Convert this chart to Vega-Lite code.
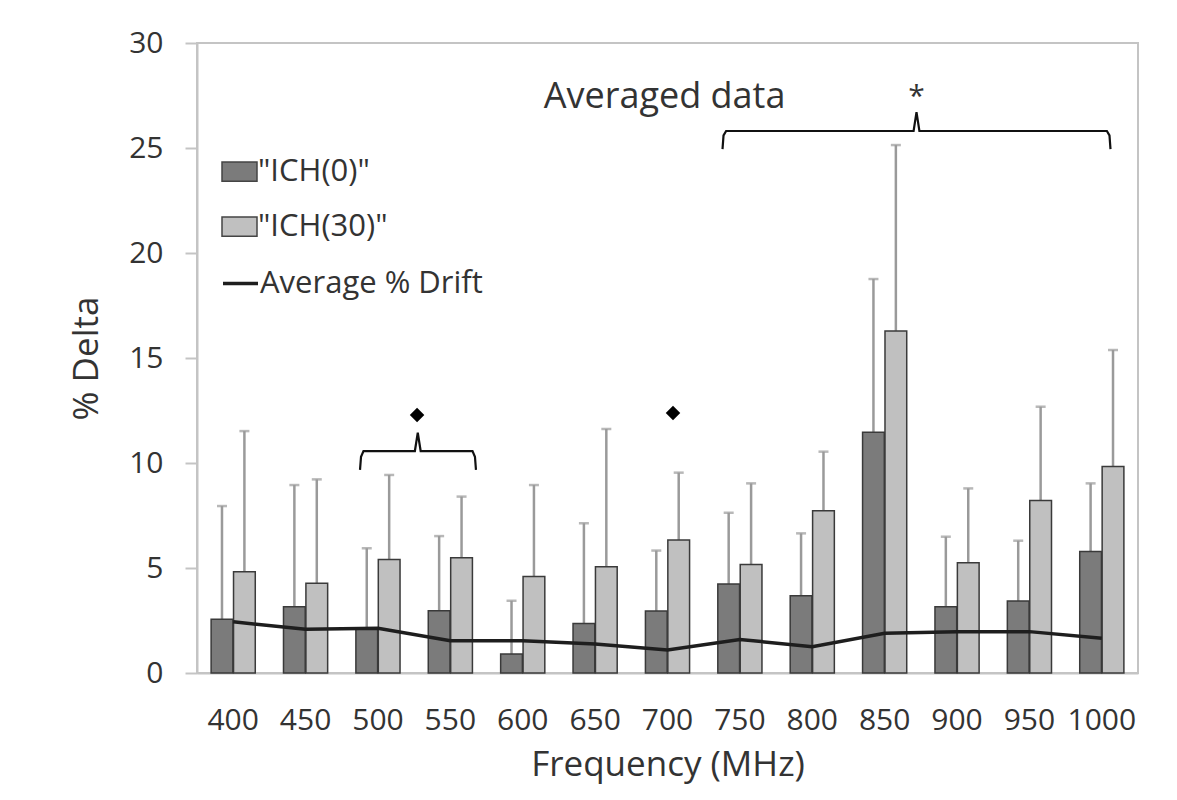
{
  "$schema": "https://vega.github.io/schema/vega-lite/v6.json",
  "width": 941,
  "height": 630,
  "autosize": "none",
  "padding": {"left": 197, "top": 43, "right": 39, "bottom": 127},
  "background": "white",
  "config": {
    "font": "Open Sans",
    "view": {"stroke": "#c4c4c4", "strokeWidth": 2},
    "axis": {"labelFont": "Open Sans", "titleFont": "Open Sans", "labelColor": "#333", "titleColor": "#333", "titleFontWeight": "normal", "domainColor": "#c4c4c4", "tickColor": "#c4c4c4", "domainWidth": 2, "tickWidth": 2, "grid": false},
    "legend": {"labelFont": "Open Sans", "labelColor": "#333", "padding": 0}
  },
  "datasets": {
    "bars": [
      {"freq": 400, "series": "\"ICH(0)\"", "value": 2.56, "err": 7.95},
      {"freq": 400, "series": "\"ICH(30)\"", "value": 4.82, "err": 11.52},
      {"freq": 450, "series": "\"ICH(0)\"", "value": 3.16, "err": 8.95},
      {"freq": 450, "series": "\"ICH(30)\"", "value": 4.27, "err": 9.22},
      {"freq": 500, "series": "\"ICH(0)\"", "value": 2.13, "err": 5.94},
      {"freq": 500, "series": "\"ICH(30)\"", "value": 5.41, "err": 9.43},
      {"freq": 550, "series": "\"ICH(0)\"", "value": 2.97, "err": 6.52},
      {"freq": 550, "series": "\"ICH(30)\"", "value": 5.49, "err": 8.4},
      {"freq": 600, "series": "\"ICH(0)\"", "value": 0.9, "err": 3.44},
      {"freq": 600, "series": "\"ICH(30)\"", "value": 4.59, "err": 8.95},
      {"freq": 650, "series": "\"ICH(0)\"", "value": 2.36, "err": 7.13},
      {"freq": 650, "series": "\"ICH(30)\"", "value": 5.06, "err": 11.62},
      {"freq": 700, "series": "\"ICH(0)\"", "value": 2.95, "err": 5.83},
      {"freq": 700, "series": "\"ICH(30)\"", "value": 6.33, "err": 9.54},
      {"freq": 750, "series": "\"ICH(0)\"", "value": 4.24, "err": 7.63},
      {"freq": 750, "series": "\"ICH(30)\"", "value": 5.17, "err": 9.03},
      {"freq": 800, "series": "\"ICH(0)\"", "value": 3.68, "err": 6.65},
      {"freq": 800, "series": "\"ICH(30)\"", "value": 7.73, "err": 10.54},
      {"freq": 850, "series": "\"ICH(0)\"", "value": 11.46, "err": 18.76},
      {"freq": 850, "series": "\"ICH(30)\"", "value": 16.29, "err": 25.14},
      {"freq": 900, "series": "\"ICH(0)\"", "value": 3.16, "err": 6.49},
      {"freq": 900, "series": "\"ICH(30)\"", "value": 5.25, "err": 8.79},
      {"freq": 950, "series": "\"ICH(0)\"", "value": 3.43, "err": 6.3},
      {"freq": 950, "series": "\"ICH(30)\"", "value": 8.21, "err": 12.68},
      {"freq": 1000, "series": "\"ICH(0)\"", "value": 5.78, "err": 9.03},
      {"freq": 1000, "series": "\"ICH(30)\"", "value": 9.83, "err": 15.38}
    ],
    "drift": [
      {"freq": 400, "drift": 2.44},
      {"freq": 450, "drift": 2.08},
      {"freq": 500, "drift": 2.13},
      {"freq": 550, "drift": 1.54},
      {"freq": 600, "drift": 1.54},
      {"freq": 650, "drift": 1.38},
      {"freq": 700, "drift": 1.1},
      {"freq": 750, "drift": 1.6},
      {"freq": 800, "drift": 1.25},
      {"freq": 850, "drift": 1.89},
      {"freq": 900, "drift": 1.97},
      {"freq": 950, "drift": 1.97},
      {"freq": 1000, "drift": 1.65}
    ],
    "braces": [
      {"brace": "a", "ord": 1, "f": 487.6, "v": 9.67},
      {"brace": "a", "ord": 2, "f": 488.3, "v": 10.3},
      {"brace": "a", "ord": 3, "f": 490, "v": 10.57},
      {"brace": "a", "ord": 4, "f": 525.5, "v": 10.57},
      {"brace": "a", "ord": 5, "f": 527.5, "v": 11.44},
      {"brace": "a", "ord": 6, "f": 529.5, "v": 10.57},
      {"brace": "a", "ord": 7, "f": 565.3, "v": 10.57},
      {"brace": "a", "ord": 8, "f": 567, "v": 10.3},
      {"brace": "a", "ord": 9, "f": 567.7, "v": 9.67},
      {"brace": "b", "ord": 1, "f": 738, "v": 24.95},
      {"brace": "b", "ord": 2, "f": 738.7, "v": 25.6},
      {"brace": "b", "ord": 3, "f": 740.5, "v": 25.81},
      {"brace": "b", "ord": 4, "f": 870, "v": 25.81},
      {"brace": "b", "ord": 5, "f": 872, "v": 26.71},
      {"brace": "b", "ord": 6, "f": 874, "v": 25.81},
      {"brace": "b", "ord": 7, "f": 1003.5, "v": 25.81},
      {"brace": "b", "ord": 8, "f": 1005.3, "v": 25.6},
      {"brace": "b", "ord": 9, "f": 1006, "v": 24.95}
    ],
    "marks": [
      {"f": 527, "v": 12.29},
      {"f": 703.8, "v": 12.38}
    ],
    "labels": [
      {"f": 698, "v": 27.43, "text": "Averaged data", "size": 36},
      {"f": 872, "v": 27.45, "text": "*", "size": 30}
    ]
  },
  "layer": [
    {
      "layer": [
        {
          "data": {"name": "bars"},
          "mark": {"type": "rule", "color": "#9a9a9a", "strokeWidth": 2.5},
          "encoding": {
            "x": {"field": "freq", "type": "ordinal"},
            "xOffset": {"field": "series", "type": "nominal"},
            "y": {"field": "value", "type": "quantitative"},
            "y2": {"field": "err"}
          }
        },
        {
          "data": {"name": "bars"},
          "mark": {"type": "tick", "color": "#9a9a9a", "size": 10, "thickness": 2.5, "orient": "horizontal"},
          "encoding": {
            "x": {"field": "freq", "type": "ordinal"},
            "xOffset": {"field": "series", "type": "nominal"},
            "y": {"field": "err", "type": "quantitative"}
          }
        },
        {
          "data": {"name": "bars"},
          "mark": {"type": "bar", "stroke": "#3a3a3a", "strokeWidth": 1.5},
          "encoding": {
            "x": {
              "field": "freq", "type": "ordinal",
              "scale": {"type": "band", "paddingInner": 0.39, "paddingOuter": 0.195},
              "axis": {"title": "Frequency (MHz)", "bandPosition": 0.5, "tickBand": "center", "labelAngle": 0, "labelAlign": "center", "labelFontSize": 30, "titleFontSize": 35, "ticks": true, "tickSize": 0, "tickOpacity": 0, "labelPadding": 47, "titlePadding": 12}
            },
            "xOffset": {"field": "series", "type": "nominal", "scale": {"paddingInner": 0.03}},
            "y": {
              "field": "value", "type": "quantitative",
              "scale": {"domain": [0, 30], "nice": false},
              "axis": {"title": "% Delta", "values": [0, 5, 10, 15, 20, 25, 30], "labelFontSize": 30, "titleFontSize": 35, "tickSize": 12, "labelPadding": 22, "titlePadding": 24}
            },
            "fill": {
              "field": "series", "type": "nominal",
              "scale": {"domain": ["\"ICH(0)\"", "\"ICH(30)\""], "range": ["#7b7b7b", "#c0c0c0"]},
              "legend": {"title": null, "orient": "none", "legendX": 24, "legendY": 110, "symbolType": "M-1,-0.55H1V0.55H-1Z", "symbolSize": 1225, "symbolStrokeColor": "#444", "symbolStrokeWidth": 1.5, "labelFontSize": 31, "labelOffset": 0, "labelLimit": 400, "rowPadding": 21}
            }
          }
        },
        {
          "data": {"name": "drift"},
          "mark": {"type": "line", "strokeWidth": 3.5},
          "encoding": {
            "x": {"field": "freq", "type": "ordinal"},
            "y": {"field": "drift", "type": "quantitative"},
            "stroke": {
              "datum": "Average % Drift",
              "scale": {"range": ["#1e1e1e"]},
              "legend": {"title": null, "orient": "none", "legendX": 24, "legendY": 221, "symbolType": "stroke", "symbolSize": 1225, "symbolStrokeWidth": 3.5, "labelFontSize": 31, "labelOffset": 0, "labelLimit": 400}
            }
          }
        }
      ]
    },
    {
      "layer": [
        {
          "data": {"name": "braces"},
          "mark": {"type": "line", "color": "#111", "strokeWidth": 2.2},
          "encoding": {
            "x": {"field": "f", "type": "quantitative", "scale": {"domain": [375, 1025], "nice": false, "zero": false}, "axis": null},
            "y": {"field": "v", "type": "quantitative"},
            "detail": {"field": "brace"},
            "order": {"field": "ord"}
          }
        },
        {
          "data": {"name": "marks"},
          "mark": {"type": "point", "shape": "diamond", "filled": true, "color": "#000", "size": 210, "opacity": 1},
          "encoding": {
            "x": {"field": "f", "type": "quantitative"},
            "y": {"field": "v", "type": "quantitative"}
          }
        },
        {
          "data": {"name": "labels"},
          "mark": {"type": "text", "color": "#333", "baseline": "middle", "align": "center", "font": "Open Sans"},
          "encoding": {
            "x": {"field": "f", "type": "quantitative"},
            "y": {"field": "v", "type": "quantitative"},
            "text": {"field": "text"},
            "size": {"field": "size", "type": "quantitative", "scale": null, "legend": null}
          }
        }
      ]
    }
  ],
  "resolve": {"scale": {"x": "independent"}, "axis": {"x": "independent"}}
}
